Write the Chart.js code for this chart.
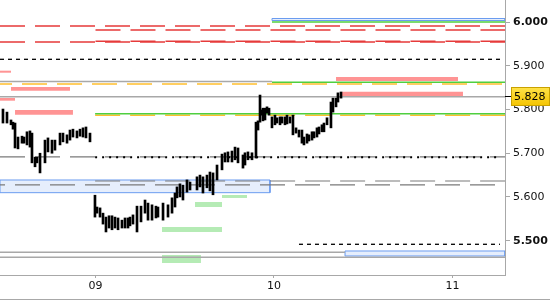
<!DOCTYPE html>
<html><head><meta charset="utf-8">
<script src="https://cdn.jsdelivr.net/npm/chart.js@4.4.1/dist/chart.umd.min.js"></script>
<style>
html,body{margin:0;padding:0;background:#fff;}
#wrap{width:550px;height:299px;border-bottom:1px solid #a8a8a8;position:relative;}
</style></head>
<body><div id="wrap"><canvas id="c"></canvas></div>
<script>
// ---- data ----
const dayLabels = ['09','10','11'];
const dayHours = [0,24,48];
const yTicks = [5.5,5.6,5.7,5.8,5.9,6.0];
const X0 = -12.84, X1 = 55.06;
const lastPrice = 5.828;

const barHours = [-12.44,-11.90,-11.36,-11.09,-10.82,-10.42,-9.88,-9.61,-9.21,-8.81,-8.54,-8.13,-7.87,-7.46,-6.79,-6.39,-5.85,-5.45,-4.77,-4.37,-3.83,-3.43,-3.03,-2.49,-2.08,-1.68,-1.28,-0.74,
-0.07,0.20,0.61,1.01,1.41,1.82,2.22,2.62,3.03,3.56,3.97,4.37,4.64,5.04,5.58,6.12,6.66,7.06,7.60,8.13,8.40,9.08,9.75,10.29,10.69,10.96,11.36,11.76,12.30,12.71,13.65,14.05,14.45,14.99,15.39,15.80,16.34,17.01,17.41,17.81,18.35,18.76,19.16,19.83,20.10,20.50,21.04,21.58,21.85,22.12,22.32,22.52,22.79,23.06,23.33,23.73,24.13,24.40,24.81,25.07,25.48,25.75,26.15,26.55,26.96,27.36,27.76,28.03,28.44,28.70,29.11,29.38,29.78,30.05,30.45,30.72,31.13,31.66,31.93,32.34,32.60,33.01];
const barHigh = [5.801,5.794,5.776,5.771,5.769,5.737,5.739,5.737,5.749,5.751,5.746,5.691,5.691,5.700,5.730,5.735,5.730,5.730,5.746,5.746,5.742,5.753,5.755,5.751,5.755,5.758,5.760,5.746,
5.604,5.577,5.575,5.563,5.554,5.557,5.557,5.554,5.552,5.547,5.552,5.552,5.554,5.559,5.579,5.579,5.593,5.586,5.582,5.579,5.577,5.586,5.582,5.598,5.609,5.623,5.630,5.627,5.639,5.634,5.646,5.650,5.646,5.650,5.657,5.655,5.673,5.698,5.701,5.703,5.705,5.714,5.712,5.696,5.701,5.703,5.701,5.771,5.774,5.833,5.799,5.803,5.803,5.806,5.803,5.783,5.787,5.781,5.783,5.783,5.783,5.787,5.783,5.787,5.758,5.753,5.753,5.737,5.744,5.742,5.749,5.749,5.758,5.760,5.765,5.769,5.781,5.817,5.826,5.826,5.838,5.840];
const barLow = [5.769,5.769,5.765,5.755,5.712,5.710,5.723,5.723,5.719,5.714,5.678,5.669,5.678,5.655,5.678,5.703,5.700,5.707,5.719,5.726,5.723,5.730,5.737,5.735,5.739,5.737,5.735,5.726,
5.554,5.563,5.554,5.538,5.520,5.529,5.525,5.529,5.525,5.529,5.529,5.529,5.534,5.538,5.520,5.543,5.563,5.547,5.547,5.552,5.554,5.547,5.554,5.563,5.577,5.598,5.600,5.593,5.611,5.616,5.616,5.623,5.609,5.621,5.614,5.605,5.639,5.662,5.680,5.680,5.680,5.685,5.678,5.666,5.673,5.685,5.685,5.689,5.753,5.771,5.787,5.774,5.776,5.792,5.787,5.758,5.765,5.769,5.765,5.769,5.765,5.767,5.769,5.742,5.746,5.737,5.723,5.719,5.723,5.728,5.730,5.735,5.737,5.744,5.749,5.749,5.765,5.758,5.794,5.806,5.817,5.826];

// levels: [xStart, xEnd, price]
const redLevels = [[X0,X1,5.991],[0,X1,5.982],[0,X1,5.956],[X0,X1,5.954]];
const greenLevels = [[23.73,X1,6.000],[23.73,X1,5.862],[-0.05,X1,5.790]];
const orangeLevels = [[X0,X1,5.858,13],[-0.05,X1,5.787,0]];
const grayLevels = [[X0,23.73,5.864],[X0,X1,5.829],[X0,33.55,5.4735],[X0,X1,5.462]];
const grayDashLevels = [[X0,X1,5.6915,0],[-0.05,X1,5.6365,0],[X0,X1,5.6275,20]];
const blackDashLevels = [[X0,54.39,5.9147],[27.36,54.39,5.4918]];
const blackDotLevels = [[-0.05,54.39,5.691]];
// zones: [xStart, xEnd, top, bottom]
const redZones = [[X0,-11.36,5.8887,5.8841],[32.34,48.74,5.8743,5.8651],[-11.36,-3.43,5.8514,5.8430],[X0,-10.82,5.8263,5.8201],[33.14,49.41,5.8407,5.8308],[-10.82,-3.03,5.7988,5.7881]];
const greenZones = [[13.38,17.01,5.5885,5.5771],[17.01,20.37,5.6045,5.5977],[8.94,17.01,5.5314,5.5200],[8.94,14.18,5.4673,5.4491]];
const blueZones = [[23.73,X1,6.0080,6.0034],[X0,23.46,5.6388,5.6098],[33.55,X1,5.4765,5.4651]];

// ---- build ----
const ds = [];
ds.push({type:'bar', data: barHours.map((h,i)=>({x:h,y:[barLow[i],barHigh[i]]})), backgroundColor:'#000', borderWidth:0, barThickness:2, order:0, grouped:false});
function line(seg,color,w,dash,off,order){
  ds.push({type:'line',data:[{x:seg[0],y:seg[2]},{x:seg[1],y:seg[2]}],borderColor:color,borderWidth:w,borderDash:dash,borderDashOffset:off||0,pointRadius:0,fill:false,order:order,tension:0});
}
function zone(z,fillc,borderc,order){
  ds.push({type:'line',data:[{x:z[0],y:z[2]},{x:z[1],y:z[2]}],borderWidth:0,borderColor:'rgba(0,0,0,0)',backgroundColor:fillc,fill:{value:z[3]},pointRadius:0,order:order});
  if(borderc){
    ds.push({type:'line',data:[{x:z[0],y:z[2]},{x:z[1],y:z[2]},{x:z[1],y:z[3]},{x:z[0],y:z[3]},{x:z[0],y:z[2]}],borderColor:borderc,borderWidth:1,pointRadius:0,fill:false,order:order-1});
  }
}
blackDotLevels.forEach(s=>line(s,'#000',2,[2,5],0,1));
blackDashLevels.forEach(s=>line(s,'#000',1.3,[4,4],0,2));
redLevels.forEach(s=>line(s,'#e63a3a',1.5,[25,10],0,3));
greenLevels.forEach(s=>line(s,'#4fcf3f',1.5,[],0,3));
orangeLevels.forEach(s=>line(s,'#ffbe2e',1.5,[25,10],s[3],4));
grayLevels.forEach(s=>line(s,'#a8a8a8',1.5,[],0,4));
grayDashLevels.forEach(s=>line(s,'#7a7a7a',1.2,[25,10],s[3],4));
redZones.forEach(z=>zone(z,'#ff9494',null,10));
greenZones.forEach(z=>zone(z,'#b5ebb5',null,10));
blueZones.forEach(z=>zone(z,'#e6eefc','#6b9cf0',12));

const priceLabel = {
  id:'priceLabel',
  afterDraw(chart){
    const c = chart.ctx, a = chart.chartArea;
    const y = Math.round(chart.scales.y.getPixelForValue(lastPrice)) - 0.5;
    c.save();
    c.strokeStyle = '#000'; c.lineWidth = 1;
    c.beginPath(); c.moveTo(a.right, y); c.lineTo(a.right+7, y); c.stroke();
    const x0 = a.right + 6, h = 19, top = y - 9.5;
    const g = c.createLinearGradient(0, top, 0, top+h);
    g.addColorStop(0,'#ffe34a'); g.addColorStop(1,'#f5c400');
    c.fillStyle = g; c.fillRect(x0, top, 550-x0, h);
    c.strokeStyle = '#c9a100'; c.strokeRect(x0+0.5, top+0.5, 550-x0-1, h-1);
    c.fillStyle = '#000'; c.font = '11px "DejaVu Sans"'; c.textBaseline = 'middle';
    c.fillText(lastPrice.toFixed(3), x0+3, y+1);
    c.restore();
  }
};

function noPad(s){ s.paddingTop = 0; s.paddingBottom = 0; s.paddingLeft = 0; s.paddingRight = 0; }

new Chart(document.getElementById('c'), {
  type:'bar',
  data:{datasets:ds},
  options:{
    responsive:true, maintainAspectRatio:false, animation:false,
    layout:{padding:0},
    plugins:{legend:{display:false},tooltip:{enabled:false}},
    scales:{
      x:{type:'linear',min:X0,max:X1,offset:false,
        afterBuildTicks(s){s.ticks = dayHours.map(v=>({value:v}));},
        afterFit(s){s.height = 24; noPad(s);},
        border:{color:'#a8a8a8'},
        grid:{drawOnChartArea:false,tickLength:3,color:'#a8a8a8',offset:false},
        ticks:{color:'#111',font:{family:'DejaVu Sans',size:11},padding:2,maxRotation:0,autoSkip:false,
          callback:(v)=>dayLabels[dayHours.indexOf(v)]}
      },
      y:{type:'linear',position:'right',min:5.4216,max:6.0503,
        afterBuildTicks(s){s.ticks = yTicks.map(v=>({value:v}));},
        afterFit(s){s.width = 45; noPad(s);},
        border:{color:'#a8a8a8'},
        grid:{drawOnChartArea:false,tickLength:5,color:'#a8a8a8'},
        ticks:{color:'#111',padding:3,autoSkip:false,
          font:(ctx)=>({family:'DejaVu Sans',size:11,weight:(ctx.tick && (Math.abs(ctx.tick.value-6)<1e-6||Math.abs(ctx.tick.value-5.5)<1e-6))?'bold':'normal'}),
          callback:(v)=>Number(v).toFixed(3)}
      }
    }
  },
  plugins:[priceLabel]
});
</script></body></html>
